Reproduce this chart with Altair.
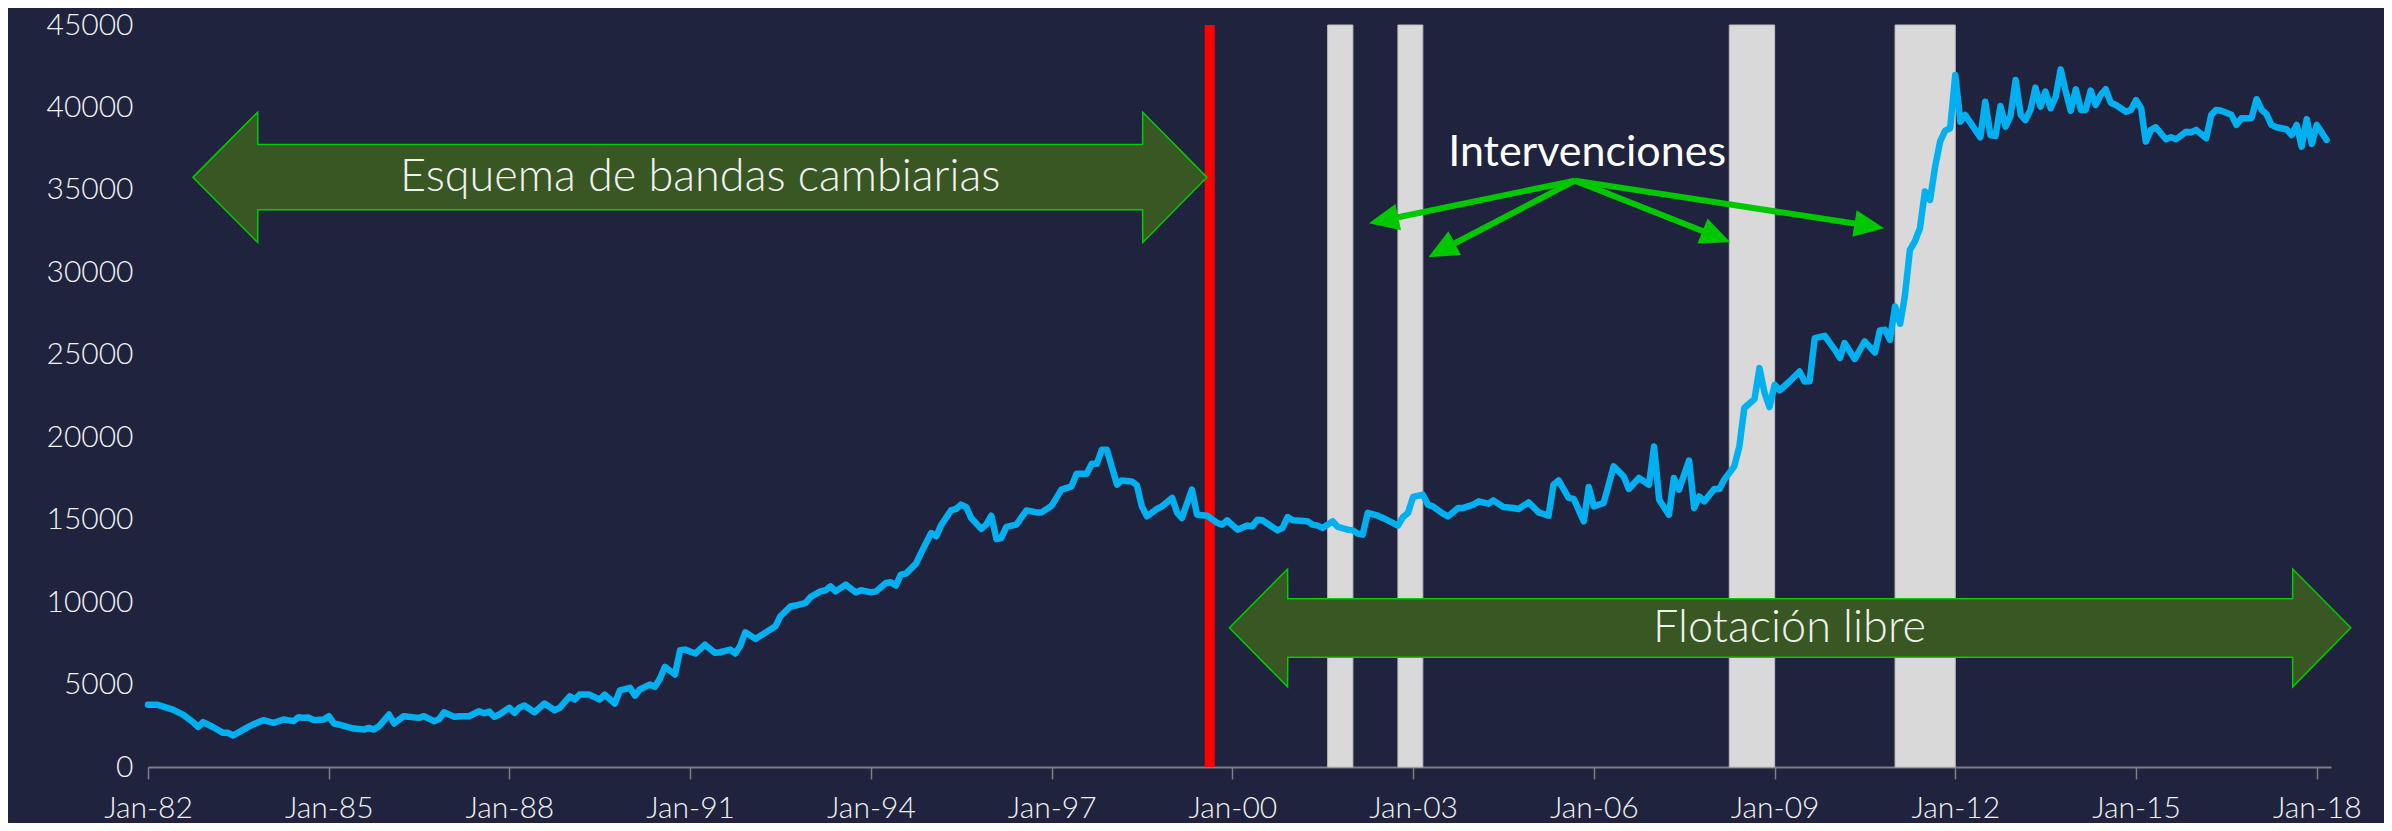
import altair as alt
import pandas as pd

# ---------------- data ----------------
months = [
    "1982-01", "1982-03", "1982-06", "1982-08", "1982-10", "1982-11", "1982-12",
    "1983-02", "1983-04", "1983-05", "1983-06", "1983-09", "1983-10", "1983-12",
    "1984-02", "1984-04", "1984-06", "1984-07", "1984-08", "1984-09", "1984-10", "1984-12",
    "1985-01", "1985-02", "1985-03", "1985-04", "1985-06", "1985-08", "1985-09", "1985-10", "1985-11",
    "1986-01", "1986-02", "1986-04", "1986-07", "1986-08", "1986-10", "1986-11", "1986-12",
    "1987-02", "1987-03", "1987-05", "1987-07", "1987-08", "1987-09", "1987-10", "1987-11",
    "1988-01", "1988-02", "1988-03", "1988-04", "1988-06", "1988-08", "1988-10", "1988-11",
    "1989-01", "1989-02", "1989-03", "1989-05", "1989-07", "1989-08", "1989-10", "1989-11",
    "1990-01", "1990-02", "1990-03", "1990-05", "1990-06", "1990-07", "1990-08", "1990-10", "1990-11", "1990-12",
    "1991-02", "1991-04", "1991-06", "1991-07", "1991-09", "1991-10", "1991-11", "1991-12",
    "1992-02", "1992-06", "1992-07", "1992-09", "1992-10", "1992-12",
    "1993-01", "1993-03", "1993-04", "1993-05", "1993-06", "1993-08", "1993-10", "1993-11",
    "1994-01", "1994-02", "1994-04", "1994-05", "1994-06", "1994-07", "1994-08", "1994-10", "1994-11",
    "1995-01", "1995-02", "1995-03", "1995-05", "1995-06", "1995-07", "1995-08", "1995-09", "1995-11", "1995-12",
    "1996-01", "1996-02", "1996-03", "1996-04", "1996-06", "1996-08", "1996-10", "1996-11",
    "1997-01", "1997-03", "1997-05", "1997-06", "1997-08", "1997-09", "1997-10", "1997-11", "1997-12",
    "1998-02", "1998-03", "1998-05", "1998-06", "1998-07", "1998-08", "1998-10", "1998-11",
    "1999-01", "1999-02", "1999-03", "1999-05", "1999-06", "1999-08", "1999-10", "1999-11", "1999-12",
    "2000-02", "2000-04", "2000-05", "2000-06", "2000-07", "2000-10", "2000-11", "2000-12",
    "2001-01", "2001-04", "2001-05", "2001-06", "2001-07", "2001-09", "2001-10", "2001-12",
    "2002-01", "2002-02", "2002-03", "2002-04", "2002-06", "2002-08", "2002-10", "2002-11", "2002-12",
    "2003-01", "2003-03", "2003-04", "2003-05", "2003-07", "2003-08", "2003-10", "2003-11",
    "2004-01", "2004-02", "2004-04", "2004-05", "2004-07", "2004-09", "2004-10", "2004-12",
    "2005-02", "2005-04", "2005-05", "2005-06", "2005-08", "2005-09", "2005-11", "2005-12",
    "2006-01", "2006-03", "2006-05", "2006-07", "2006-08", "2006-10", "2006-12",
    "2007-01", "2007-02", "2007-04", "2007-05", "2007-06", "2007-08", "2007-09", "2007-10", "2007-11",
    "2008-01", "2008-02", "2008-03", "2008-05", "2008-06", "2008-07", "2008-09", "2008-10", "2008-11", "2008-12",
    "2009-01", "2009-02", "2009-04", "2009-06", "2009-07", "2009-08", "2009-09", "2009-11",
    "2010-01", "2010-02", "2010-03", "2010-05", "2010-07", "2010-09", "2010-10", "2010-11", "2010-12",
    "2011-01", "2011-02", "2011-03", "2011-04", "2011-05", "2011-06", "2011-07", "2011-08", "2011-09",
    "2011-10", "2011-11", "2011-12",
    "2012-01", "2012-02", "2012-03", "2012-05", "2012-06", "2012-07", "2012-08", "2012-09", "2012-10",
    "2012-11", "2012-12",
    "2013-01", "2013-02", "2013-03", "2013-04", "2013-05", "2013-06", "2013-07", "2013-08", "2013-09",
    "2013-10", "2013-11", "2013-12",
    "2014-01", "2014-02", "2014-03", "2014-04", "2014-05", "2014-06", "2014-07", "2014-08", "2014-09",
    "2014-11", "2014-12",
    "2015-01", "2015-02", "2015-03", "2015-04", "2015-05", "2015-07", "2015-08", "2015-09", "2015-11", "2015-12",
    "2016-01", "2016-03", "2016-04", "2016-05", "2016-06", "2016-08", "2016-09", "2016-10", "2016-12",
    "2017-01", "2017-02", "2017-03", "2017-04", "2017-05", "2017-07", "2017-08", "2017-09", "2017-10",
    "2017-11", "2017-12",
    "2018-01", "2018-02", "2018-03",
]
values = [
    3770, 3770, 3480, 3180, 2720, 2430, 2720,
    2410, 2070, 2070, 1910, 2430, 2580, 2840,
    2680, 2880, 2780, 3020, 2980, 3000, 2840, 2880,
    3080, 2640, 2580, 2500, 2330, 2270, 2370, 2270, 2470,
    3180, 2640, 3080, 2980, 3080, 2780, 2900, 3320,
    3040, 3080, 3080, 3380, 3260, 3360, 3040, 3180,
    3590, 3280, 3590, 3730, 3320, 3850, 3440, 3590,
    4290, 4090, 4390, 4390, 4090, 4390, 3850, 4650,
    4800, 4330, 4700, 5000, 4860, 5350, 6070, 5610, 7080, 7120,
    6880, 7420, 6920, 6960, 7120, 6880, 7360, 8170,
    7770, 8530, 9140, 9750, 9790, 9950,
    10320, 10650, 10720, 10960, 10650, 11060, 10590, 10720,
    10590, 10650, 11160, 11200, 11000, 11670, 11730, 12330, 12980,
    14190, 13990, 14640, 15560, 15650, 15910, 15770, 15100, 14440, 14700,
    15240, 13830, 13890, 14560, 14700, 15560, 15440, 15440,
    15850, 16820, 17020, 17790, 17790, 18390, 18390, 19240, 19240,
    17120, 17380, 17320, 17100, 15810, 15200, 15650, 15810,
    16320, 15410, 15100, 16820, 15300, 15240, 14800, 14700, 14960,
    14390, 14640, 14600, 15000, 14960, 14350, 14500, 15160,
    14960, 14900, 14700, 14640, 14500, 14900, 14560, 14390,
    14350, 14150, 14090, 15410, 15240, 14960, 14640, 15160, 15410,
    16380, 16520, 15910, 15810, 15360, 15200, 15710, 15710,
    15910, 16110, 15970, 16170, 15770, 15710, 15650, 16050,
    15440, 15240, 17120, 17380, 16320, 16260, 14900, 16980,
    15810, 16010, 18230, 17620, 16860, 17530, 17120,
    19440, 16210, 15300, 17530, 16820, 18590, 15710, 16410, 16110,
    16860, 16860, 17420, 18230, 19440, 21770, 22320, 24190, 22680, 21830,
    23180, 22840, 23380, 23990, 23380, 23400, 26010, 26150,
    25300, 24800, 25710, 24740, 25810, 25140, 26470, 26520, 25910,
    27930, 26880, 28530, 31360, 31870, 32680, 34900, 34390, 36410,
    37930, 38590, 38740,
    41970, 39140, 39550, 38640, 38190, 40350, 38330, 38270, 40090,
    38840, 39490,
    41670, 39550, 39240, 39850, 41200, 40050, 40960, 39950, 40650,
    42310, 40960, 39800,
    41100, 39850, 39850, 41020, 40150, 40760, 41100, 40290, 40150,
    39740, 39850,
    40450, 39950, 37930, 38640, 38800, 38070, 38190, 38070, 38530, 38500,
    38640, 38130, 39550, 39850, 39800, 39550, 38940, 39350, 39350,
    40500, 39850, 39610, 38940, 38800, 38680, 38330, 38940, 37620,
    39290, 37790,
    38940, 38470, 38030,
]

# intervention periods (grey bands)
band_start = ["2001-08-01", "2002-10-01", "2008-04-01", "2011-01-01"]
band_end = ["2002-01-01", "2003-03-01", "2009-01-01", "2012-01-01"]

# change of regime (red line)
regime_date = ["1999-08-17"]

# big double arrows (outline vertices, in date / value units)
top_arrow_dates = ["1982-09-30", "1983-10-28", "1983-10-29", "1998-07-06", "1998-07-07", "1999-07-31"]
top_arrow_upper = [35760, 39710, 37750, 37750, 39710, 35760]
top_arrow_lower = [35760, 31810, 33790, 33790, 31810, 35760]
bot_arrow_dates = ["1999-12-14", "2000-12-01", "2000-12-02", "2017-08-07", "2017-08-08", "2018-07-26"]
bot_arrow_upper = [8440, 12010, 10210, 10210, 12010, 8440]
bot_arrow_lower = [8440, 4860, 6660, 6660, 4860, 8440]

# labels
label_texts = ["Esquema de bandas cambiarias", "Flotación libre"]
label_dates = ["1991-03-03", "2009-04-01"]
label_values = [35760, 8440]
interv_text = "Intervenciones"
interv_date = "2005-11-21"
interv_value = 36470

# small green arrows from the label to the bands
ptr_origin_date = "2005-09-08"
ptr_origin_value = 35560
ptr_head_dates = ["2002-07-06", "2003-06-22", "2008-01-14", "2010-07-29"]
ptr_head_values = [33160, 31340, 32170, 32820]
ptr_angles = [258, 242, 112, 99]

tick_years = list(range(1982, 2019, 3))
y_ticks = list(range(0, 45001, 5000))


def ts(s):
    p = s.split("-")
    if len(p) == 2:
        p.append("01")
    return "/".join(p)


# ---------------- tables ----------------
series = pd.DataFrame({"date": [ts(m) for m in months], "value": values})
bands = pd.DataFrame({"start": [ts(s) for s in band_start], "end": [ts(s) for s in band_end],
                      "lo": 0, "hi": 45000})
regime = pd.DataFrame({"date": [ts(s) for s in regime_date], "lo": [0], "hi": [45000]})
top_arrow = pd.DataFrame({"date": [ts(s) for s in top_arrow_dates],
                          "upper": top_arrow_upper, "lower": top_arrow_lower})
bot_arrow = pd.DataFrame({"date": [ts(s) for s in bot_arrow_dates],
                          "upper": bot_arrow_upper, "lower": bot_arrow_lower})
labels = pd.DataFrame({"date": [ts(s) for s in label_dates], "value": label_values, "text": label_texts})
interv = pd.DataFrame({"date": [ts(interv_date)], "value": [interv_value], "text": [interv_text]})
ptrs = pd.DataFrame({
    "d0": ts(ptr_origin_date), "v0": ptr_origin_value,
    "date": [ts(s) for s in ptr_head_dates], "value": ptr_head_values, "ang": ptr_angles,
})

# ---------------- styling ----------------
BG = "#1f233d"
FONT = "Lato"
xscale = alt.Scale(domain=[alt.DateTime(year=1982, month=1, date=1),
                           alt.DateTime(year=2018, month=3, date=28)])
yscale = alt.Scale(domain=[0, 45000], nice=False, zero=True)
xaxis = alt.Axis(
    values=[alt.DateTime(year=y, month=1, date=1) for y in tick_years],
    format="%b-%y", title=None, grid=False,
    labelFont=FONT, labelFontSize=30, labelFontWeight=300, labelColor="#f2f2f2",
    labelPadding=14, labelFlush=False, labelOverlap=False,
    domainColor="#7f7f7f", domainWidth=2, tickColor="#7f7f7f", tickWidth=1.5, tickSize=12,
)
yaxis = alt.Axis(
    values=y_ticks, format="d", title=None, grid=False, domain=False, ticks=False,
    labelFont=FONT, labelFontSize=30, labelFontWeight=300, labelColor="#f2f2f2",
    labelPadding=15,
)


def X(field, **kw):
    return alt.X(field, type="temporal", scale=xscale, axis=xaxis, **kw)


def Y(field, **kw):
    return alt.Y(field, type="quantitative", scale=yscale, axis=yaxis, **kw)


band_layer = alt.Chart(bands).mark_rect(color="#d9d9d9", stroke="#bfbfbf", strokeWidth=1).encode(
    x=X("start"), x2="end", y=Y("lo"), y2="hi")

regime_layer = alt.Chart(regime).mark_rule(color="#ff0000", strokeWidth=10).encode(
    x=X("date"), y=Y("lo"), y2="hi")

line_layer = alt.Chart(series).mark_line(
    color="#00b0f0", strokeWidth=6.5, strokeJoin="round", strokeCap="round").encode(
    x=X("date"), y=Y("value"))


def big_arrow(df):
    return alt.Chart(df).mark_area(
        fill="#385723", fillOpacity=1, stroke="#00cc00", strokeWidth=1.5, interpolate="linear").encode(
        x=X("date"), y=Y("upper"), y2="lower")


label_layer = alt.Chart(labels).mark_text(
    font=FONT, fontSize=45, fontWeight=300, color="#f2f2f2", align="center", baseline="middle").encode(
    x=X("date"), y=Y("value"), text="text:N")

interv_layer = alt.Chart(interv).mark_text(
    font=FONT, fontSize=43, fontWeight="normal", color="#ffffff", align="center", baseline="alphabetic").encode(
    x=X("date"), y=Y("value"), text="text:N")

shaft_layer = alt.Chart(ptrs).mark_rule(color="#00c800", strokeWidth=6).encode(
    x=X("d0"), y=Y("v0"), x2="date", y2="value")

head_layer = alt.Chart(ptrs).mark_point(
    shape="M0,-1L-0.9,1L0.9,1Z", filled=True, size=900, color="#00c800", opacity=1).encode(
    x=X("date"), y=Y("value"), angle=alt.Angle("ang:Q", scale=None))

chart = alt.layer(
    band_layer, regime_layer, line_layer, big_arrow(top_arrow), big_arrow(bot_arrow),
    label_layer, interv_layer, shaft_layer, head_layer
).properties(
    width=2183, height=742, background=BG,
    autosize=alt.AutoSizeParams(type="none"),
    padding={"left": 140, "top": 17, "right": 53, "bottom": 56},
).configure_view(stroke=None)

chart.save("out.html", embed_options={"renderer": "svg", "actions": False})
